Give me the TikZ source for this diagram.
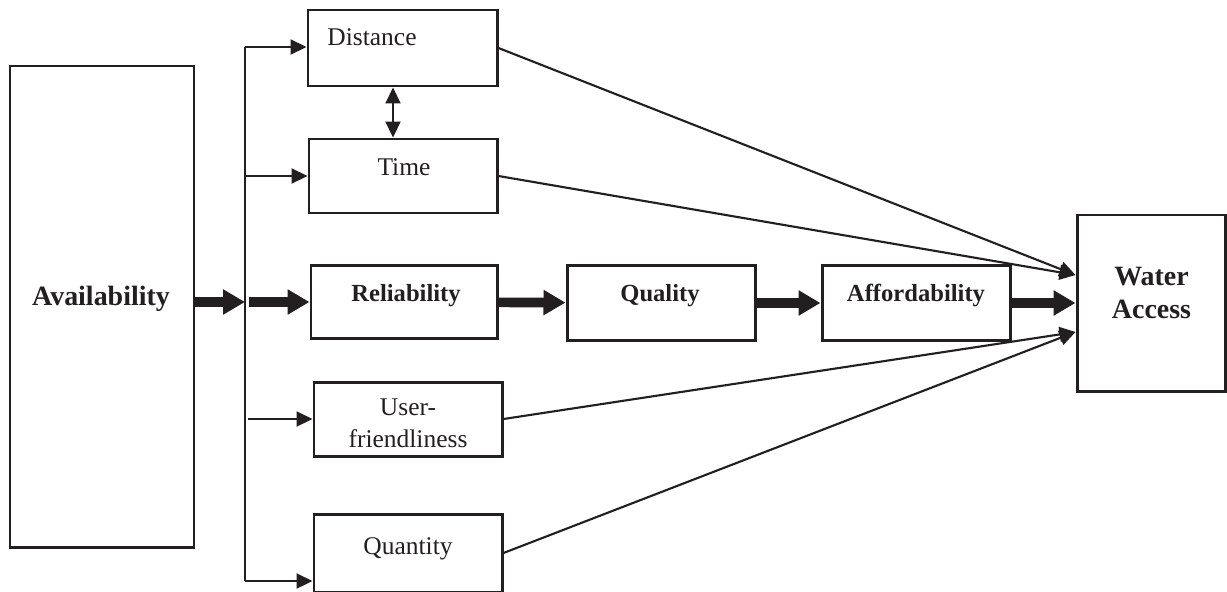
\documentclass[tikz,border=0pt]{standalone}
\usepackage{fontspec}
\setmainfont{Liberation Serif}
\usetikzlibrary{arrows.meta}
\definecolor{ink}{HTML}{231F20}

\begin{document}
\begin{tikzpicture}[>={Triangle[length=0.32cm,width=0.3cm]}, line width=1.2pt, draw=ink, color=ink]
\tikzset{
  box/.style={draw=ink, line width=1.7pt, inner sep=0pt},
  txt/.style={anchor=base, inner sep=0pt, align=center, font=\fontsize{14.5}{18}\selectfont},
  boldtxt/.style={txt, font=\fontsize{14}{18.5}\selectfont\bfseries},
  bigtxt/.style={txt, font=\fontsize{15.9}{18.7}\selectfont\bfseries},
  fat/.style={line width=5.5pt, -{Triangle[length=0.44cm,width=0.48cm]}},
}
\useasboundingbox (0,0) rectangle (24.54,11.82);

% Boxes
\node[box, minimum width=3.68cm, minimum height=9.62cm] (avail) at (2.04,5.69) {};
\node[box, minimum width=3.78cm, minimum height=1.52cm] (dist) at (8.05,10.86) {};
\node[box, minimum width=3.76cm, minimum height=1.48cm] (time) at (8.06,8.30) {};
\node[box, minimum width=3.72cm, minimum height=1.46cm] (rel) at (8.08,5.78) {};
\node[box, minimum width=3.76cm, minimum height=1.50cm] (qual) at (13.22,5.76) {};
\node[box, minimum width=3.76cm, minimum height=1.50cm] (aff) at (18.32,5.76) {};
\node[box, minimum width=3.76cm, minimum height=1.48cm] (user) at (8.16,3.44) {};
\node[box, minimum width=3.76cm, minimum height=1.56cm] (quant) at (8.16,0.76) {};
\node[box, minimum width=2.96cm, minimum height=3.52cm] (water) at (23.02,5.76) {};

% Labels
\node[bigtxt] (availT) at (2.02,5.72) {Availability};
\node[txt] (distT) at (7.44,10.92) {Distance};
\node[txt] (timeT) at (8.08,8.32) {Time};
\node[boldtxt] (relT) at (8.12,5.8) {Reliability};
\node[boldtxt] (qualT) at (13.2,5.8) {Quality};
\node[boldtxt] (affT) at (18.32,5.8) {Affordability};
\node[txt] (userT) at (8.16,2.88) {User-\\friendliness};
\node[txt] (quantT) at (8.16,0.74) {Quantity};
\node[bigtxt] (waterT) at (23.03,5.46) {Water\\Access};

% Branching line
\coordinate (top) at (4.9,10.88);
\coordinate (bot) at (4.9,0.2);
\draw[line width=1pt] (top) -- (bot);

\draw[fat] (avail.east |- rel.west) -- (top |- rel.west);
\draw[fat] ([xshift=0.07cm]top |- rel.west) -- (rel.west);
\draw[->] (top) -- (top -| dist.west);
\draw[->] (top |- time.west) -- (time.west);
\draw[->] ([xshift=0.05cm]top |- user.west) -- (user.west);
\draw[->] (bot) -- (bot -| quant.west);

% Distance and time
\draw[<->] ([xshift=-0.19cm]dist.south) -- ([xshift=-0.19cm]dist.south |- time.north);

% Main chain
\draw[fat] (rel) -- (qual);
\draw[fat] (qual) -- (aff);
\draw[fat] (aff) -- (water);

% Into water access
\coordinate (hiIn) at ([yshift=0.56cm]water.west);
\coordinate (loIn) at ([yshift=-0.58cm]water.west);
\draw[->] (dist.east) -- (hiIn);
\draw[->] (time.east) -- (hiIn);
\draw[->] (user.east) -- (loIn);
\draw[->] (quant.east) -- (loIn);

\end{tikzpicture}
\end{document}
